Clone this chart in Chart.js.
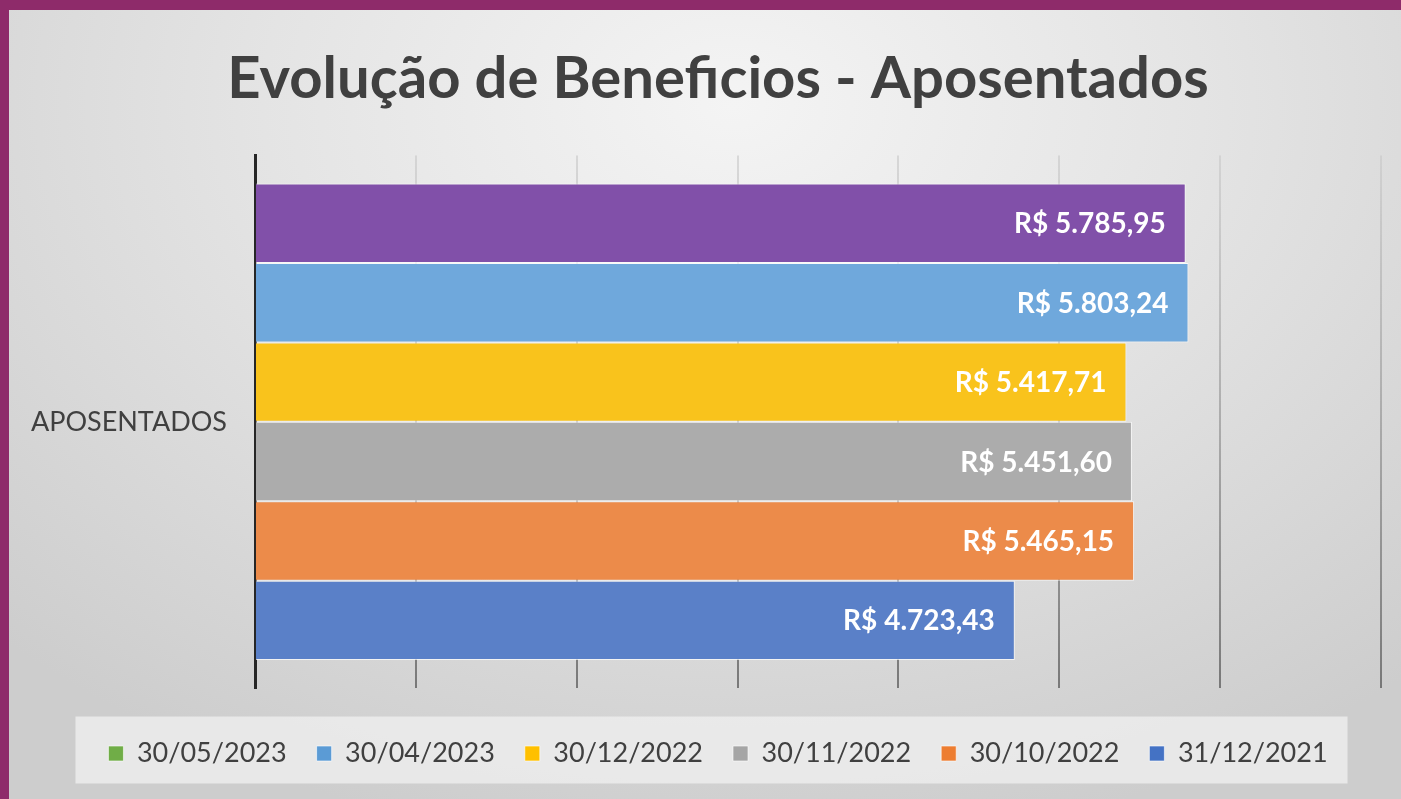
<!DOCTYPE html>
<html>
<head>
<meta charset="utf-8">
<script src="https://cdn.jsdelivr.net/npm/chart.js@4/dist/chart.umd.min.js"></script>
<style>
  html, body { margin: 0; padding: 0; }
  body { width: 1401px; height: 799px; background: #8e2b6a; overflow: hidden; }
  #frame {
    position: absolute; left: 9px; top: 10px; width: 1392px; height: 789px;
    background: radial-gradient(ellipse 75% 95% at 52% 12%, #f4f4f4 0%, #e4e4e4 45%, #cdcdcd 100%);
  }
</style>
</head>
<body>
<div id="frame"><canvas id="benefChart" width="1392" height="789"></canvas></div>
<script>
// chart data
const categories = ["APOSENTADOS"];
const seriesNames = ["30/05/2023", "30/04/2023", "30/12/2022", "30/11/2022", "30/10/2022", "31/12/2021"];
const values = [5785.95, 5803.24, 5417.71, 5451.60, 5465.15, 4723.43];
const xTicks = [0, 1000, 2000, 3000, 4000, 5000, 6000, 7000];

const barColors = ["#8150a9", "#6fa8dc", "#f9c31c", "#acacac", "#ec8b4a", "#5a80c8"];
const legendColors = ["#70ad47", "#5b9bd5", "#ffc000", "#a5a5a5", "#ed7d31", "#4472c4"];

const brl = v => "R$ " + v.toLocaleString("pt-BR", { minimumFractionDigits: 2, maximumFractionDigits: 2 });

// value labels inside the bar ends
const barLabels = {
  id: "barLabels",
  afterDatasetsDraw(chart) {
    const ctx = chart.ctx;
    ctx.save();
    ctx.font = "bold 28px Lato";
    ctx.fillStyle = "#ffffff";
    ctx.textAlign = "right";
    ctx.textBaseline = "middle";
    chart.data.datasets.forEach((ds, i) => {
      const bar = chart.getDatasetMeta(i).data[0];
      ctx.fillText(brl(ds.data[0]), bar.x - 20, bar.y + 1);
    });
    ctx.restore();
  }
};

// category label left of the axis (drawn here so it can reach into the left padding)
const categoryLabel = {
  id: "categoryLabel",
  afterDraw(chart) {
    const y = chart.scales.y;
    const ctx = chart.ctx;
    ctx.save();
    ctx.font = "27px Lato";
    ctx.fillStyle = "#404040";
    ctx.textAlign = "right";
    ctx.textBaseline = "middle";
    categories.forEach((c, i) => ctx.fillText(c, y.right - 28, y.getPixelForValue(i)));
    ctx.restore();
  }
};

// light box behind the legend
const legendBox = {
  id: "legendBox",
  beforeDraw(chart) {
    const boxes = chart.legend.legendHitBoxes;
    if (!boxes || !boxes.length) return;
    const left = boxes[0].left - 33;
    const last = boxes[boxes.length - 1];
    const right = last.left + last.width + 20;
    const top = boxes[0].top + boxes[0].height / 2 - 37;
    const ctx = chart.ctx;
    ctx.save();
    ctx.fillStyle = "rgba(240,240,240,0.75)";
    ctx.fillRect(left, top, right - left, 67);
    ctx.restore();
  }
};

const ctx = document.getElementById("benefChart").getContext("2d");
new Chart(ctx, {
  type: "bar",
  data: {
    labels: categories,
    datasets: seriesNames.map((name, i) => ({
      label: name,
      data: [values[i]],
      backgroundColor: barColors[i],
      borderColor: "rgba(255,255,255,0.7)",
      borderWidth: 1,
      barPercentage: 1,
      categoryPercentage: 0.895
    }))
  },
  options: {
    indexAxis: "y",
    responsive: false,
    animation: false,
    layout: { padding: { left: 46, right: 20, top: 0, bottom: 22 } },
    scales: {
      x: {
        min: 0,
        max: 7000,
        afterBuildTicks: scale => { scale.ticks = xTicks.map(v => ({ value: v })); },
        afterFit: scale => { scale.height = 22; },
        ticks: { display: false },
        border: { display: false },
        grid: {
          drawTicks: false,
          lineWidth: 2,
          color: c => {
            const area = c.chart.chartArea;
            if (!area) return "#a0a0a0";
            const g = c.chart.ctx.createLinearGradient(0, area.top, 0, area.bottom);
            g.addColorStop(0, "rgba(200,200,200,0.6)");
            g.addColorStop(1, "rgba(110,110,110,0.9)");
            return g;
          }
        }
      },
      y: {
        afterFit: scale => { scale.width = 200; },
        ticks: { display: false },
        border: { display: true, color: "#262626", width: 3 },
        grid: { display: false, drawTicks: false }
      }
    },
    plugins: {
      title: {
        display: true,
        text: "Evolução de Beneficios - Aposentados",
        color: "#404040",
        font: { family: "Lato", size: 58, weight: "bold" },
        padding: { top: 34, bottom: 42 }
      },
      legend: {
        position: "bottom",
        labels: {
          color: "#404040",
          font: { family: "Lato", size: 27 },
          boxWidth: 15,
          boxHeight: 15,
          padding: 30,
          generateLabels: chart => chart.data.datasets.map((ds, i) => ({
            text: ds.label,
            fillStyle: legendColors[i],
            strokeStyle: "rgba(255,255,255,0.6)",
            lineWidth: 1,
            fontColor: "#404040",
            datasetIndex: i
          }))
        }
      },
      tooltip: { enabled: false }
    }
  },
  plugins: [legendBox, barLabels, categoryLabel]
});
</script>
</body>
</html>
